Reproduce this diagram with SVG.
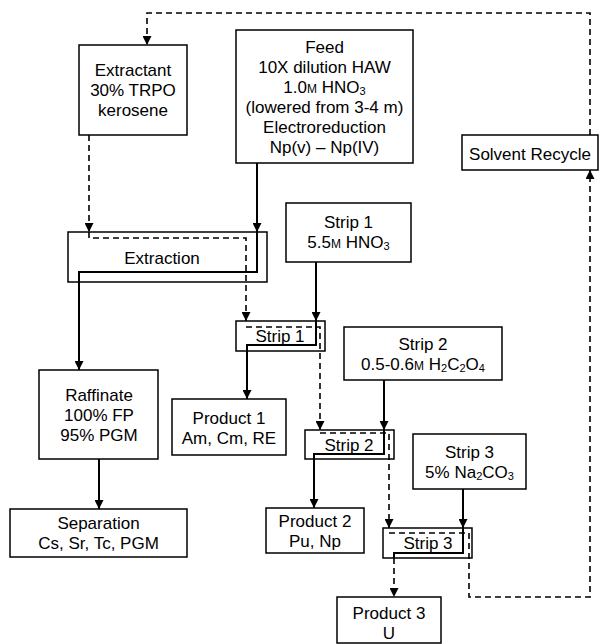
<svg xmlns="http://www.w3.org/2000/svg" width="600" height="644" viewBox="0 0 600 644">
<style>
.box{fill:#fff;stroke:#000;stroke-width:1.5}
text{font-family:"Liberation Sans",Arial,sans-serif;font-size:17px;fill:#000;text-anchor:middle}
.sc{font-size:12px}
.sub{font-size:11px}
.s{fill:none;stroke:#000;stroke-width:2}
.d{fill:none;stroke:#000;stroke-width:1.6;stroke-dasharray:6,4}
</style>
<defs>
<marker id="ah" viewBox="0 0 10 10" refX="10" refY="5" markerWidth="9" markerHeight="9" markerUnits="userSpaceOnUse" orient="auto">
<path d="M0,0 L10,5 L0,10 z" fill="#000"/>
</marker>
</defs>
<rect width="600" height="644" fill="#fff"/>
<g id="nodes">
<g id="extractant"><rect class="box" x="79" y="45" width="108" height="90"/>
<text x="133" y="76">Extractant</text><text x="133" y="96">30% TRPO</text><text x="133" y="116">kerosene</text></g>
<g id="feed"><rect class="box" x="236" y="30" width="177" height="133"/>
<text x="324.5" y="53">Feed</text>
<text x="324.5" y="73">10X dilution HAW</text>
<text x="324.5" y="93">1.0<tspan class="sc">M</tspan> HNO<tspan class="sub" dy="2">3</tspan></text>
<text x="324.5" y="113">(lowered from 3-4 m)</text>
<text x="324.5" y="133">Electroreduction</text>
<text x="324.5" y="153">Np(v) – Np(IV)</text></g>
<g id="solvent-recycle"><rect class="box" x="462" y="135" width="136" height="35"/>
<text x="530" y="160">Solvent Recycle</text></g>
<g id="extraction"><rect class="box" x="68" y="232" width="199" height="50"/>
<text x="162" y="264">Extraction</text></g>
<g id="strip1-reagent"><rect class="box" x="286" y="203" width="125" height="59"/>
<text x="348.5" y="228">Strip 1</text>
<text x="348.5" y="248">5.5<tspan class="sc">M</tspan> HNO<tspan class="sub" dy="2">3</tspan></text></g>
<g id="strip1"><rect class="box" x="236" y="321" width="89" height="30"/>
<text x="280" y="342">Strip 1</text></g>
<g id="raffinate"><rect class="box" x="39" y="370" width="119" height="89"/>
<text x="99" y="401">Raffinate</text><text x="99" y="421">100% FP</text><text x="99" y="441">95% PGM</text></g>
<g id="product1"><rect class="box" x="172" y="399" width="114" height="56"/>
<text x="229" y="424">Product 1</text><text x="229" y="444">Am, Cm, RE</text></g>
<g id="strip2-reagent"><rect class="box" x="344" y="327" width="158" height="53"/>
<text x="423" y="350">Strip 2</text>
<text x="423" y="370">0.5-0.6<tspan class="sc">M</tspan> H<tspan class="sub" dy="2">2</tspan><tspan dy="-2">C</tspan><tspan class="sub" dy="2">2</tspan><tspan dy="-2">O</tspan><tspan class="sub" dy="2">4</tspan></text></g>
<g id="strip2"><rect class="box" x="305" y="430" width="89" height="29"/>
<text x="349" y="451">Strip 2</text></g>
<g id="strip3-reagent"><rect class="box" x="413" y="434" width="113" height="55"/>
<text x="469.5" y="458">Strip 3</text>
<text x="469.5" y="478">5% Na<tspan class="sub" dy="2">2</tspan><tspan dy="-2">CO</tspan><tspan class="sub" dy="2">3</tspan></text></g>
<g id="separation"><rect class="box" x="10" y="509" width="177" height="48"/>
<text x="98.5" y="529">Separation</text><text x="98.5" y="549">Cs, Sr, Tc, PGM</text></g>
<g id="product2"><rect class="box" x="266" y="508" width="98" height="45"/>
<text x="315" y="527">Product 2</text><text x="315" y="547">Pu, Np</text></g>
<g id="strip3"><rect class="box" x="383" y="528" width="89" height="30"/>
<text x="428" y="549">Strip 3</text></g>
<g id="product3"><rect class="box" x="337" y="597" width="104" height="46"/>
<text x="389" y="619">Product 3</text><text x="389" y="639">U</text></g>
</g>
<g id="connectors">
<path class="d" d="M590,135 V13 H147 V45" marker-end="url(#ah)"/>
<path class="d" d="M89,135 V232" marker-end="url(#ah)"/>
<path class="d" d="M89,232 V238 H246 V321" marker-end="url(#ah)"/>
<path class="s" d="M257,163 V232" marker-end="url(#ah)"/>
<path class="s" d="M257,232 V272 H79 V370" marker-end="url(#ah)"/>
<path class="s" d="M99,459 V509" marker-end="url(#ah)"/>
<path class="s" d="M316,262 V321" marker-end="url(#ah)"/>
<path class="s" d="M316,321 V345 H247 V399" marker-end="url(#ah)"/>
<path class="d" d="M246,327 H320 V430" marker-end="url(#ah)"/>
<path class="s" d="M384,380 V430" marker-end="url(#ah)"/>
<path class="s" d="M384,430 V454 H314 V508" marker-end="url(#ah)"/>
<path class="d" d="M320,433 H389 V528" marker-end="url(#ah)"/>
<path class="s" d="M463,489 V528" marker-end="url(#ah)"/>
<path class="s" d="M463,528 V553 H394 V558"/>
<path class="d" d="M394,558 V597" marker-end="url(#ah)"/>
<path class="d" d="M389,533 H469 V597 H590 V170" marker-end="url(#ah)"/>
</g>
</svg>
